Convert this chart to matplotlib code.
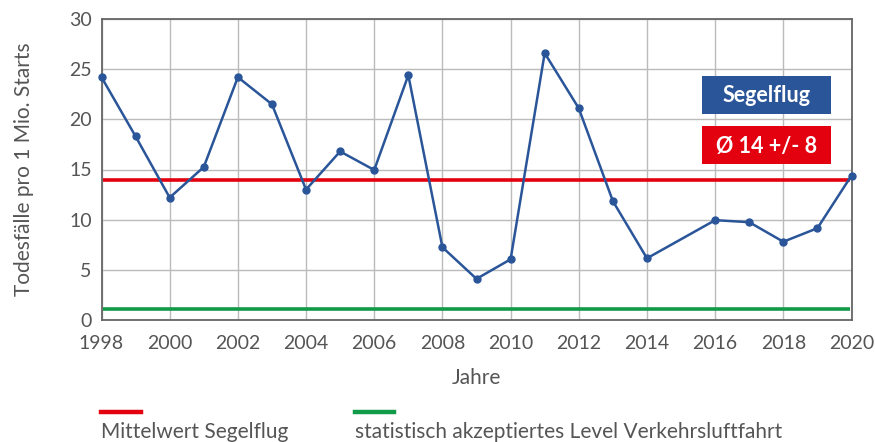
import matplotlib
matplotlib.use("Agg")
import matplotlib.pyplot as plt
from matplotlib.lines import Line2D
from matplotlib.patches import Rectangle

# Daten, 2015 fehlt
jahre = [1998, 1999, 2000, 2001, 2002, 2003, 2004, 2005, 2006, 2007, 2008,
         2009, 2010, 2011, 2012, 2013, 2014, 2016, 2017, 2018, 2019, 2020]
todesfaelle = [24.2, 18.3, 12.2, 15.25, 24.2, 21.5, 13.0, 16.8, 14.95, 24.4, 7.25,
               4.1, 6.05, 26.6, 21.1, 11.85, 6.15, 9.95, 9.75, 7.8, 9.15, 14.4]
mittelwert = 14.0
level_verkehr = 1.1
x_ticks = list(range(1998, 2021, 2))
y_ticks = [0, 5, 10, 15, 20, 25, 30]

plt.rcParams['font.family'] = ['Lato', 'DejaVu Sans']
grau = '#555555'
blau = '#2A5599'
rot = '#E3000F'
gruen = '#119A48'

W, H = 875, 442
fig = plt.figure(figsize=(W / 100, H / 100), dpi=100)
ax = fig.add_axes([101.5 / W, 1 - 320 / H, 750 / W, 301 / H])

ax.hlines(mittelwert, 1998.05, 2019.95, color=rot, lw=2.6, zorder=2)
ax.hlines(level_verkehr, 1998.05, 2019.95, color=gruen, lw=2.6, zorder=2)
ax.plot(jahre, todesfaelle, color=blau, lw=1.8, marker='o', markersize=5, zorder=3, clip_on=False)

ax.set_xlim(1998, 2020)
ax.set_ylim(0, 30)
ax.set_xticks(x_ticks)
ax.set_yticks(y_ticks)
ax.grid(True, color='#BBBBBB', lw=1.0)
ax.set_axisbelow(True)
for s in ax.spines.values():
    s.set_color('#666666')
    s.set_linewidth(1.3)
ax.tick_params(length=0, labelsize=14, colors=grau)
ax.tick_params(axis='x', pad=11)
ax.tick_params(axis='y', pad=7)
ax.set_xlabel('Jahre', fontsize=15, color=grau)
ax.xaxis.set_label_coords(0.5, -(378 - 320) / 301)
ax.xaxis.label.set_va('center')
ax.set_ylabel('Todesfälle pro 1 Mio. Starts', fontsize=15, color=grau)
ax.yaxis.set_label_coords(-(101.5 - 24) / 750, 0.5)
ax.yaxis.label.set_va('center')

# Kästen rechts oben
fig.add_artist(Rectangle((702 / W, 1 - 114 / H), 129 / W, 38 / H, transform=fig.transFigure, fc=blau, ec='none'))
fig.add_artist(Rectangle((702 / W, 1 - 164 / H), 129 / W, 38 / H, transform=fig.transFigure, fc=rot, ec='none'))
fig.text(766.5 / W, 1 - 96 / H, 'Segelflug', ha='center', va='center', fontsize=15.5, fontweight='bold', color='white')
fig.text(766.5 / W, 1 - 146 / H, 'Ø 14 +/- 8', ha='center', va='center', fontsize=15.5, fontweight='bold', color='white')

# Legende unten
fig.add_artist(Line2D([101 / W, 141 / W], [1 - 412 / H] * 2, color=rot, lw=3.2))
fig.add_artist(Line2D([355 / W, 394 / W], [1 - 412 / H] * 2, color=gruen, lw=3.2))
fig.text(101 / W, 1 - 432 / H, 'Mittelwert Segelflug', fontsize=15, color=grau, va='center')
fig.text(355 / W, 1 - 432 / H, 'statistisch akzeptiertes Level Verkehrsluftfahrt', fontsize=15, color=grau, va='center')

fig.savefig('out.png', dpi=100)
